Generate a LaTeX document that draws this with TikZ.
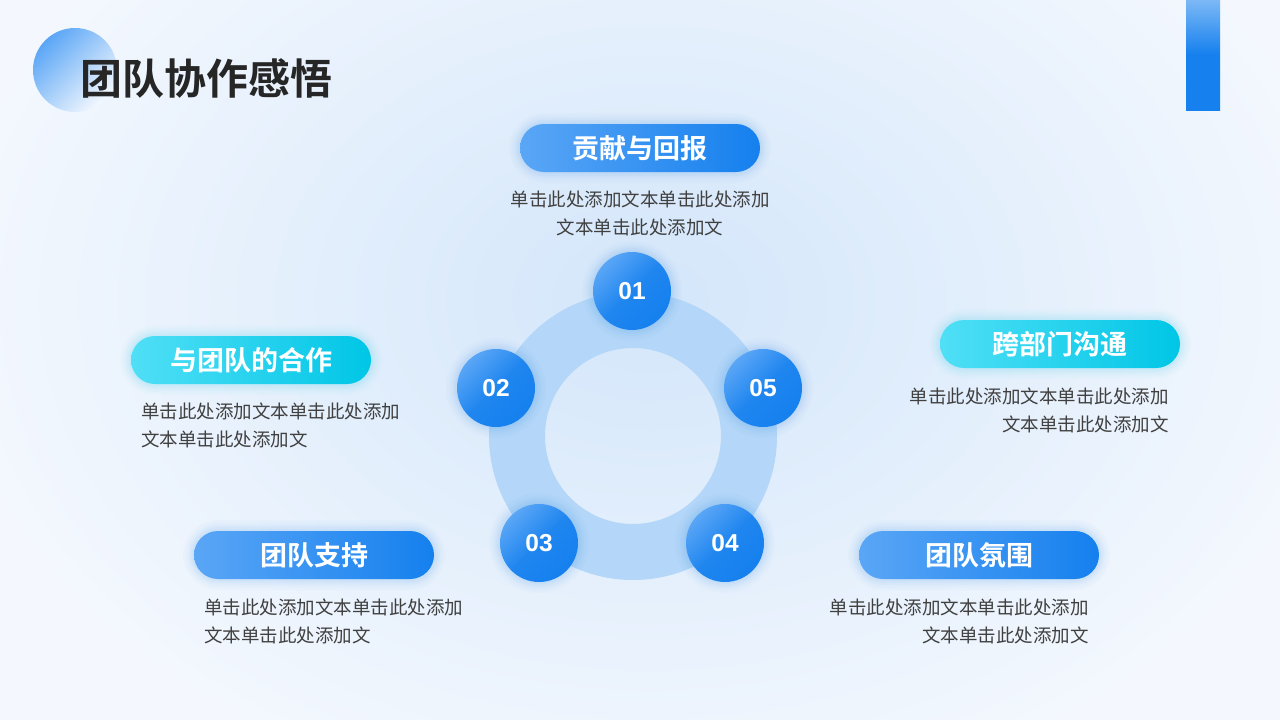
\documentclass[tikz,border=0pt]{standalone}
\usepackage{fontspec}
\newfontfamily\cjk[BoldFont={Noto Sans CJK SC Bold}]{Noto Sans CJK SC}
\newfontfamily\numfont{Liberation Sans}
\definecolor{bgblue}{HTML}{D3E6FA}
\definecolor{bgwhite}{HTML}{F4F8FE}
\definecolor{ringc}{HTML}{B4D6F8}
\definecolor{blueL}{HTML}{5AA6F6}
\definecolor{blueD}{HTML}{1580EE}
\definecolor{barL}{HTML}{7CB8F6}
\definecolor{cyanL}{HTML}{50DFF6}
\definecolor{cyanD}{HTML}{00C6E6}
\definecolor{txt}{HTML}{404040}
\definecolor{ttl}{HTML}{262626}
\begin{document}
\begin{tikzpicture}[x=1pt,y=-1pt,
  glow/.style={preaction={draw=#1,draw opacity=0.02,line width=22pt},
               preaction={draw=#1,draw opacity=0.025,line width=17pt},
               preaction={draw=#1,draw opacity=0.03,line width=12pt},
               preaction={draw=#1,draw opacity=0.035,line width=8pt},
               preaction={draw=#1,draw opacity=0.04,line width=4pt}},
  pillbase/.style={rectangle,rounded corners=24pt,minimum width=240pt,minimum height=48pt,
    inner sep=0pt,text=white,font=\cjk\bfseries\fontsize{27}{27}\selectfont},
  pillblue/.style={pillbase,glow=blueD,left color=blueL,right color=blueD},
  pillcyan/.style={pillbase,glow=cyanD,left color=cyanL,right color=cyanD},
  numc/.style={circle,minimum size=78pt,inner sep=0pt,glow=blueD,
    top color=blueL,bottom color=blueD,middle color=blueD!85!blueL,shading angle=45,
    text=white,font=\numfont\bfseries\fontsize{24.5}{24.5}\selectfont},
  body/.style={inner sep=0pt,text=txt,font=\cjk\fontsize{18.5}{27.5}\selectfont},
  ttlstyle/.style={inner sep=0pt,text=ttl,font=\cjk\bfseries\fontsize{42}{42}\selectfont}
]
\useasboundingbox (0,0) rectangle (1280,720);
% background
\fill[bgwhite] (0,0) rectangle (1280,720);
\shade[inner color=bgblue,outer color=bgwhite] (-60,-220) rectangle (1360,820);
% top-left decorative circle
\shade[top color=blueL,bottom color=bgwhite,shading angle=45] (75,70) circle (42);
% top-right bar
\shade[top color=barL,bottom color=blueD,middle color=blueD] (1186,0) rectangle (1220,110);
% title
\node[ttlstyle,anchor=west] (title) at (80,78) {团队协作感悟};
% ring
\fill[ringc,even odd rule] (633,436) circle (144) (633,436) circle (88);
% number circles
\node[numc] (c1) at (632,291) {01};
\node[numc] (c2) at (496,388) {02};
\node[numc] (c5) at (763,388) {05};
\node[numc] (c3) at (539,543) {03};
\node[numc] (c4) at (725,543) {04};
% pills
\node[pillblue] (p1) at (640,148) {贡献与回报};
\node[pillcyan] (p2) at (251,360) {与团队的合作};
\node[pillcyan] (p5) at (1060,344) {跨部门沟通};
\node[pillblue] (p3) at (314,555) {团队支持};
\node[pillblue] (p4) at (979,555) {团队氛围};
% body texts
\node[body,anchor=north,align=center] (t1) at (640,191) {单击此处添加文本单击此处添加\\文本单击此处添加文};
\node[body,anchor=north west,align=left] (t2) at (141,403) {单击此处添加文本单击此处添加\\文本单击此处添加文};
\node[body,anchor=north east,align=right] (t5) at (1169,388) {单击此处添加文本单击此处添加\\文本单击此处添加文};
\node[body,anchor=north west,align=left] (t3) at (204,599) {单击此处添加文本单击此处添加\\文本单击此处添加文};
\node[body,anchor=north east,align=right] (t4) at (1089,599) {单击此处添加文本单击此处添加\\文本单击此处添加文};
\end{tikzpicture}
\end{document}
